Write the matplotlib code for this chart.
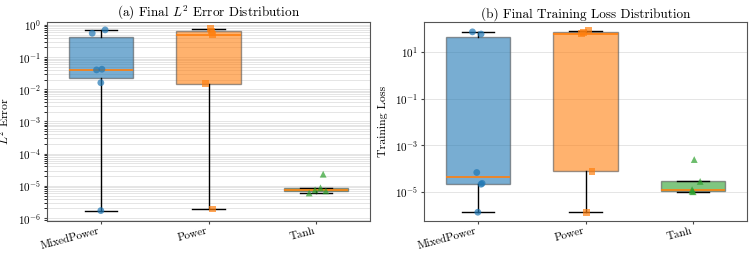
"""
Распределение финальной L2-ошибки и лосса по типам активаций.
"""

import matplotlib
matplotlib.use("Agg")
import matplotlib.pyplot as plt
import numpy as np

plt.rcParams["font.family"] = "serif"
plt.rcParams["font.serif"] = ["cmr10"]
plt.rcParams["mathtext.fontset"] = "cm"
plt.rcParams["axes.formatter.use_mathtext"] = True
plt.rcParams["axes.unicode_minus"] = False

models = ["MixedPower", "Power", "Tanh"]
colors = ["#1f77b4", "#ff7f0e", "#2ca02c"]
markers = ["o", "s", "^"]

# финальная L2 ошибка по запускам
l2_mixed = [1.7e-6, 0.016, 0.040, 0.042, 0.55, 0.70]
l2_power = [1.9e-6, 0.015, 0.50, 0.65, 0.76]
l2_tanh = [6.0e-6, 7.0e-6, 7.5e-6, 8.7e-6, 2.3e-5]
l2_jitter_mixed = [0.0, 0.0, -0.04, 0.01, -0.08, 0.04]
l2_jitter_power = [0.04, -0.03, 0.04, 0.03, 0.02]
l2_jitter_tanh = [-0.065, 0.09, -0.01, 0.04, 0.065]

# финальный training loss по запускам
loss_mixed = [1.4e-6, 2.2e-5, 2.4e-5, 7.0e-5, 58.0, 72.0]
loss_power = [1.4e-6, 7.9e-5, 60.0, 70.0, 82.0]
loss_tanh = [1.05e-5, 1.1e-5, 1.3e-5, 2.9e-5, 2.5e-4]
loss_jitter_mixed = [0.0, 0.03, 0.04, -0.01, 0.03, -0.05]
loss_jitter_power = [0.01, 0.06, -0.04, -0.02, 0.03]
loss_jitter_tanh = [0.0, -0.01, -0.01, 0.065, 0.01]


def draw_panel(ax, data, jitter, title, ylabel, ylim, minor_grid):
    pos = np.arange(1, len(data) + 1)
    bp = ax.boxplot(
        data, positions=pos, widths=0.6, patch_artist=True, showfliers=False,
        whis=1.5,
        medianprops=dict(color="#ff7f0e", linewidth=1.2),
        whiskerprops=dict(color="black", linewidth=1.0),
        capprops=dict(color="black", linewidth=1.0),
        boxprops=dict(edgecolor="#555555", linewidth=1.0),
    )
    for patch, c in zip(bp["boxes"], colors):
        patch.set_facecolor(c)
        patch.set_alpha(0.6)
    for i, (vals, jit) in enumerate(zip(data, jitter)):
        ax.scatter(pos[i] + np.array(jit), vals, color=colors[i], marker=markers[i],
                   s=24, alpha=0.7, zorder=3, edgecolors="none")
    ax.set_yscale("log")
    ax.set_ylim(*ylim)
    ax.set_xlim(0.5, 3.5)
    ax.set_xticks(pos)
    ax.set_xticklabels(models, rotation=15, ha="right", fontsize=8)
    ax.set_ylabel(ylabel, fontsize=8.5)
    ax.yaxis.set_label_coords(-0.11, 0.5)
    ax.set_title(title, fontsize=9.5, pad=3)
    if minor_grid:
        ax.grid(True, which="both", axis="y", color="#cccccc", alpha=0.6, linewidth=0.6)
    else:
        ax.grid(True, which="major", axis="y", color="#cccccc", alpha=0.6, linewidth=0.6)
        ax.yaxis.set_minor_locator(matplotlib.ticker.NullLocator())
    ax.set_axisbelow(True)
    for s in ax.spines.values():
        s.set_color("#555555")
    ax.tick_params(axis="both", labelsize=8, length=2, pad=2, color="#444444")
    ax.tick_params(axis="x", labelsize=8, pad=1.5)


fig = plt.figure(figsize=(7.53, 2.59), dpi=100)
ax1 = fig.add_axes([47 / 753, 38 / 259, 323 / 753, 199 / 259])
ax2 = fig.add_axes([424 / 753, 38 / 259, 323 / 753, 199 / 259])

draw_panel(ax1, [l2_mixed, l2_power, l2_tanh],
           [l2_jitter_mixed, l2_jitter_power, l2_jitter_tanh],
           "(a) Final $L^2$ Error Distribution", "$L^2$ Error",
           (8.1e-7, 1.23), True)
draw_panel(ax2, [loss_mixed, loss_power, loss_tanh],
           [loss_jitter_mixed, loss_jitter_power, loss_jitter_tanh],
           "(b) Final Training Loss Distribution", "Training Loss",
           (5.9e-7, 190), False)
ax2.set_yticks([1e1, 1e-1, 1e-3, 1e-5])

plt.savefig("out.png", dpi=100)
plt.close()
